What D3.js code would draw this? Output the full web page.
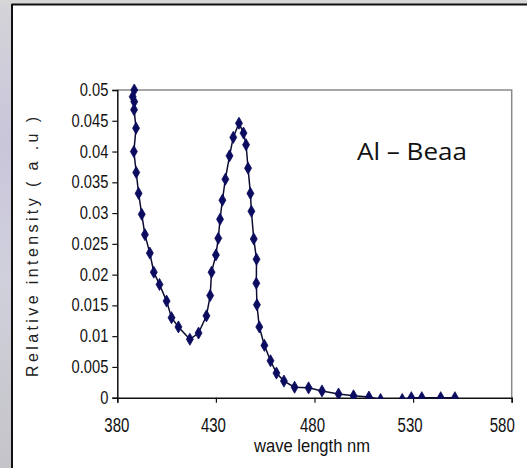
<!DOCTYPE html>
<html><head><meta charset="utf-8">
<script src="https://cdn.jsdelivr.net/npm/d3@7/dist/d3.min.js"></script>
<style>
html,body{margin:0;padding:0;background:#fff;}
svg{display:block;}
</style></head>
<body>
<svg id="c" width="527" height="468"></svg>
<script>
const wavelength = [388.6,387.8,388.6,388.5,389.5,388.4,389.6,390.8,392.4,394.0,396.5,398.5,401.4,405.0,407.5,411.0,416.8,421.2,425.2,
  427.1,427.8,430.0,431.2,432.1,433.3,434.8,436.9,438.8,441.7,444.0,445.3,446.3,447.5,448.0,449.2,450.6,450.5,450.8,452.0,454.6,
  457.7,460.7,464.5,469.9,477.0,483.8,492.2,499.8,507.6,513.5,524.5,529.1,534.4,544.0,551.2];
const intensity = [0.0500,0.0489,0.0481,0.0468,0.0438,0.0400,0.0366,0.0332,0.0298,0.0265,0.0235,0.0204,0.0184,0.0157,0.0130,0.0115,0.0095,0.0105,0.0133,
  0.0166,0.0204,0.0232,0.0259,0.0290,0.0321,0.0355,0.0393,0.0423,0.0446,0.0430,0.0411,0.0373,0.0332,0.0303,0.0258,0.0225,0.0186,0.0151,0.0115,0.0085,
  0.0060,0.0040,0.0027,0.0017,0.0016,0.0011,0.0006,0.0003,0.0001,-0.0003,-0.0003,0.0000,0.0000,0.0000,0.0000];
const xTicks = [380,430,480,530,580];
const yTicks = [0,0.005,0.01,0.015,0.02,0.025,0.03,0.035,0.04,0.045,0.05];
const yTickLabels = ["0","0.005","0.01","0.015","0.02","0.025","0.03","0.035","0.04","0.045","0.05"];
const xTitle = "wave length nm";
const yTitle = "Relative intensity ( a .u )";
const annotation = "Al – Beaa";

const svg = d3.select("#c");
const sans = "'Liberation Sans',Arial,sans-serif";

function squeeze(sel, f){
  sel.each(function(){
    const w = this.getComputedTextLength();
    d3.select(this).attr("textLength", w*f).attr("lengthAdjust","spacingAndGlyphs");
  });
}

// background outside frame
const defs = svg.append("defs");
const lg = defs.append("linearGradient").attr("id","lg").attr("x1",0).attr("x2",0).attr("y1",0).attr("y2",1);
lg.append("stop").attr("offset","0").attr("stop-color","#d4d4d8");
lg.append("stop").attr("offset","0.3").attr("stop-color","#c9c6da");
lg.append("stop").attr("offset","0.6").attr("stop-color","#d0d0dc");
lg.append("stop").attr("offset","1").attr("stop-color","#c4c4c8");
svg.append("rect").attr("x",0).attr("y",0).attr("width",12).attr("height",468).attr("fill","url(#lg)");
svg.append("rect").attr("x",0).attr("y",0).attr("width",527).attr("height",4).attr("fill","#d6d6d6");
svg.append("line").attr("x1",11.5).attr("x2",527).attr("y1",4.5).attr("y2",4.5).attr("stroke","#111").attr("stroke-width",2);
svg.append("line").attr("x1",12).attr("x2",12).attr("y1",4).attr("y2",468).attr("stroke","#111").attr("stroke-width",2);

const L = 117.3, R = 511.7, T = 90, B = 397.7;
const x = d3.scaleLinear().domain([380,580]).range([L,R]);
const y = d3.scaleLinear().domain([0,0.05]).range([B,T]);

// plot border (gray)
svg.append("path").attr("d",`M${L},${T}H${R}V${B}`).attr("fill","none").attr("stroke","#8a8a8a").attr("stroke-width",1.5);

// axes
const gy = svg.append("g").attr("transform",`translate(${L},0)`)
  .call(d3.axisLeft(y).tickValues(yTicks).tickFormat((d,i)=>yTickLabels[i]).tickSize(5).tickPadding(4));
gy.select(".domain").attr("stroke","#111").attr("stroke-width",1.5);
gy.selectAll(".tick line").attr("stroke","#111").attr("stroke-width",1.2);
gy.selectAll(".tick text").attr("font-family",sans).attr("font-size",17.5).attr("fill","#111");
squeeze(gy.selectAll(".tick text"), 0.84);

const xLabelShift = [-1,-3,-2.5,-3.5,-10];
const gx = svg.append("g").attr("transform",`translate(0,${B})`)
  .call(d3.axisBottom(x).tickValues(xTicks).tickFormat(d3.format("d")).tickSize(5).tickPadding(15));
gx.select(".domain").attr("stroke","#111").attr("stroke-width",1.5);
gx.selectAll(".tick line").attr("stroke","#111").attr("stroke-width",1.2);
gx.selectAll(".tick text").attr("font-family",sans).attr("font-size",19.5).attr("fill","#111")
  .attr("dx",(d,i)=>xLabelShift[i]);
squeeze(gx.selectAll(".tick text"), 0.77);

// titles
svg.append("text").attr("x",312).attr("y",452).attr("text-anchor","middle")
  .attr("font-family",sans).attr("font-size",18.5).attr("fill","#111")
  .attr("textLength",116).attr("lengthAdjust","spacingAndGlyphs").text(xTitle);
svg.append("text").attr("transform","translate(38,247) rotate(-90)").attr("text-anchor","middle")
  .attr("font-family",sans).attr("font-size",16).attr("fill","#222")
  .attr("textLength",260).attr("lengthAdjust","spacing").text(yTitle);

svg.append("text").attr("x",357).attr("y",160)
  .attr("font-family","'Open Sans','Liberation Sans',sans-serif").attr("font-size",24).attr("fill","#111")
  .attr("textLength",110).attr("lengthAdjust","spacingAndGlyphs").text(annotation);

// data
const data = wavelength.map((w,i)=>({w, v:intensity[i]}));
defs.append("clipPath").attr("id","clip").append("rect").attr("x",L-10).attr("y",T-10).attr("width",R-L+20).attr("height",B-T+11);
const g = svg.append("g").attr("clip-path","url(#clip)");
g.append("path").datum(data)
  .attr("d", d3.line().x(d=>x(d.w)).y(d=>y(d.v)))
  .attr("fill","none").attr("stroke","#0c0c30").attr("stroke-width",1.5);
g.selectAll("path.m").data(data).join("path").attr("class","m")
  .attr("transform",d=>`translate(${x(d.w)},${y(d.v)})`)
  .attr("d", d3.symbol().type(d3.symbolDiamond).size(42))
  .attr("fill","#0b0b60").attr("stroke","#0b0b60").attr("stroke-width",0.8);
</script>
</body></html>
